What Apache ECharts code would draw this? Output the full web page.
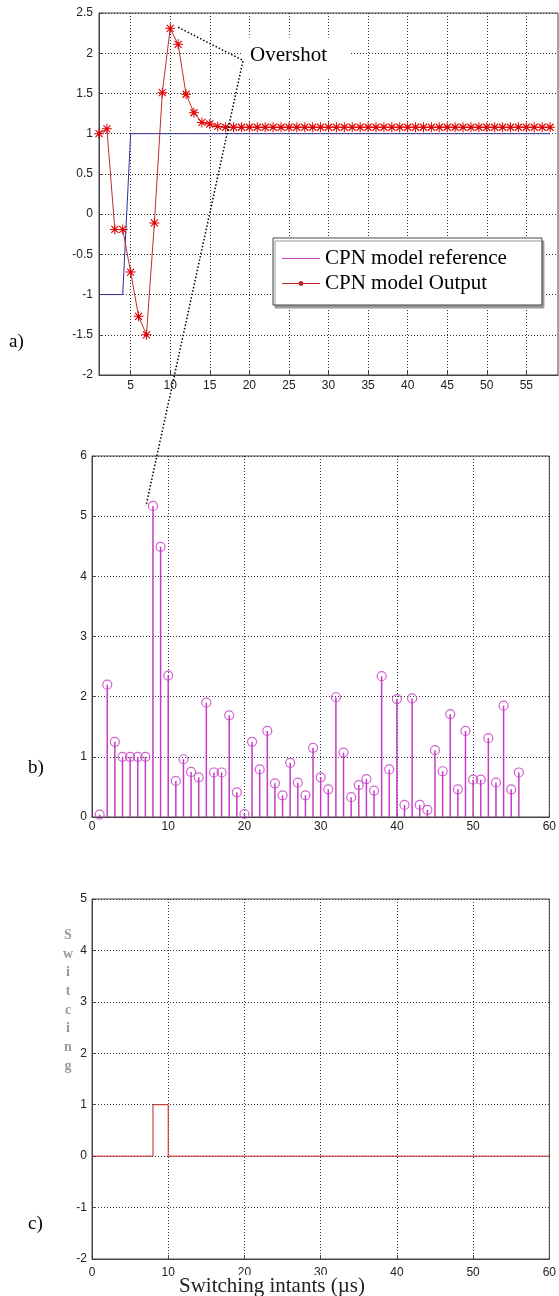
<!DOCTYPE html>
<html><head><meta charset="utf-8">
<script src="https://cdn.jsdelivr.net/npm/echarts@6/dist/echarts.min.js"></script>
<style>html,body{margin:0;padding:0;background:#fff}#c{width:559px;height:1296px}</style>
</head><body><div id="c"></div>
<script>
// ---------- data ----------
const timeA = [1,2,3,4,5,6,7,8,9,10,11,12,13,14,15,16,17,18,19,20,21,22,23,24,25,26,27,28,29,30,31,32,33,34,35,36,37,38,39,40,41,42,43,44,45,46,47,48,49,50,51,52,53,54,55,56,57,58];
const referenceA = [-1,-1,-1,-1,1,1,1,1,1,1,1,1,1,1,1,1,1,1,1,1,1,1,1,1,1,1,1,1,1,1,1,1,1,1,1,1,1,1,1,1,1,1,1,1,1,1,1,1,1,1,1,1,1,1,1,1,1,1];
const outputA = [1.0,1.06,-0.19,-0.19,-0.72,-1.27,-1.5,-0.11,1.51,2.31,2.11,1.49,1.26,1.14,1.12,1.09,1.08,1.08,1.08,1.08,1.08,1.08,1.08,1.08,1.08,1.08,1.08,1.08,1.08,1.08,1.08,1.08,1.08,1.08,1.08,1.08,1.08,1.08,1.08,1.08,1.08,1.08,1.08,1.08,1.08,1.08,1.08,1.08,1.08,1.08,1.08,1.08,1.08,1.08,1.08,1.08,1.08,1.08];
const tickLabelsA = [5,10,15,20,25,30,35,40,45,50,55];

const indexB = [1,2,3,4,5,6,7,8,9,10,11,12,13,14,15,16,17,18,19,20,21,22,23,24,25,26,27,28,29,30,31,32,33,34,35,36,37,38,39,40,41,42,43,44,45,46,47,48,49,50,51,52,53,54,55,56];
const valuesB = [0.04,2.2,1.25,1.0,1.0,1.0,1.0,5.17,4.49,2.35,0.6,0.96,0.75,0.66,1.9,0.74,0.74,1.69,0.41,0.05,1.25,0.79,1.43,0.56,0.36,0.9,0.57,0.36,1.15,0.66,0.46,1.99,1.07,0.33,0.53,0.63,0.44,2.34,0.79,1.96,0.2,1.97,0.2,0.12,1.11,0.76,1.71,0.46,1.43,0.62,0.62,1.31,0.57,1.85,0.46,0.74];

const switchInstantsC = [0, 8, 10, 60];
const switchStatesC = [0, 1, 0, 0];

const overshotPeak = [10, 2.31];   // grid a
const overshotKnee = [19.2, 1.91]; // grid a
const overshotStem = [8, 5.17];    // grid b

// ---------- styles ----------
const MAG = '#c43cc4';
const gridLine = {show:true, lineStyle:{color:'#333', type:[1,2], width:1}};
const axLine = {show:true, onZero:false, lineStyle:{color:'#444', width:1}};
const tick = {show:true, inside:true, length:4, lineStyle:{color:'#444'}};
const lab = {color:'#222', fontFamily:'Liberation Sans, Arial, sans-serif', fontSize:12};
const asterisk = 'path://M0 4.5L10 4.5L10 5.5L0 5.5Z M4.5 0L5.5 0L5.5 10L4.5 10Z M1.1 1.9L1.9 1.1L8.9 8.1L8.1 8.9Z M8.1 1.1L8.9 1.9L1.9 8.9L1.1 8.1Z';
const legendLine = 'path://M0 0L0.2 0L0 0.2Z M0 4.4L38 4.4L38 5.6L0 5.6Z M38 10L37.8 10L38 9.8Z';
const legendLineDot = 'path://M0 0L0.2 0L0 0.2Z M0 4.4L38 4.4L38 5.6L0 5.6Z M38 10L37.8 10L38 9.8Z M19 2.4L20.8 3.2L21.6 5L20.8 6.8L19 7.6L17.2 6.8L16.4 5L17.2 3.2Z';

const chart = echarts.init(document.getElementById('c'), null, {renderer:'canvas'});
const option = {
  animation:false,
  backgroundColor:'#fff',
  grid:[
    {left:99, top:13, width:459, height:362, show:true, borderColor:'#444', borderWidth:1},
    {left:92, top:456, width:460, height:361, show:true, borderColor:'#444', borderWidth:1},
    {left:92, top:899, width:460, height:360, show:true, borderColor:'#444', borderWidth:1}
  ],
  xAxis:[
    {gridIndex:0, type:'value', min:1, max:59, axisLine:axLine, axisTick:Object.assign({}, tick, {customValues:tickLabelsA}),
     axisLabel:Object.assign({}, lab, {margin:5, customValues:tickLabelsA}), splitLine:gridLine},
    {gridIndex:1, type:'value', min:0, max:60, interval:10, axisLine:axLine, axisTick:tick,
     axisLabel:Object.assign({}, lab, {margin:4}), splitLine:gridLine},
    {gridIndex:2, type:'value', min:0, max:60, interval:10, axisLine:axLine, axisTick:tick,
     axisLabel:Object.assign({}, lab, {margin:8}), splitLine:gridLine}
  ],
  yAxis:[
    {gridIndex:0, type:'value', min:-2, max:2.5, interval:0.5, axisLine:axLine, axisTick:tick,
     axisLabel:Object.assign({}, lab, {margin:6}), splitLine:gridLine},
    {gridIndex:1, type:'value', min:0, max:6, interval:1, axisLine:axLine, axisTick:tick,
     axisLabel:Object.assign({}, lab, {margin:5}), splitLine:gridLine},
    {gridIndex:2, type:'value', min:-2, max:5, interval:1, axisLine:axLine, axisTick:tick,
     axisLabel:Object.assign({}, lab, {margin:5}), splitLine:gridLine}
  ],
  legend:{
    orient:'vertical', left:273, top:238, padding:[8,35,9,9], itemGap:0, itemWidth:38, itemHeight:10,
    backgroundColor:'#fff', borderColor:'#444', borderWidth:1,
    shadowColor:'#999', shadowBlur:0, shadowOffsetX:2, shadowOffsetY:3,
    textStyle:{fontFamily:'Liberation Serif, Times New Roman, serif', fontSize:21, color:'#000', lineHeight:25},
    data:[
      {name:'CPN model reference', icon:legendLine, itemStyle:{color:MAG}},
      {name:'CPN model Output', icon:legendLineDot, itemStyle:{color:'#c42020'}}
    ]
  },
  series:[
    {name:'CPN model reference', type:'line', xAxisIndex:0, yAxisIndex:0, symbol:'none',
     lineStyle:{color:'#30309a', width:1}, itemStyle:{color:'#30309a'},
     data: timeA.map((t,i)=>[t, referenceA[i]])},
    {name:'CPN model Output', type:'line', xAxisIndex:0, yAxisIndex:0, symbol:asterisk, symbolSize:10, showAllSymbol:true,
     lineStyle:{color:'#b83030', width:1}, itemStyle:{color:'#e00000'},
     data: timeA.map((t,i)=>[t, outputA[i]])},
    {name:'stem', type:'bar', xAxisIndex:1, yAxisIndex:1, barWidth:1.5, itemStyle:{color:MAG},
     data: indexB.map((t,i)=>[t, valuesB[i]])},
    {name:'stemHead', type:'scatter', xAxisIndex:1, yAxisIndex:1, symbol:'circle', symbolSize:9,
     itemStyle:{color:'rgba(255,255,255,0)', borderColor:MAG, borderWidth:1.2},
     data: indexB.map((t,i)=>[t, valuesB[i]])},
    {name:'switching', type:'line', xAxisIndex:2, yAxisIndex:2, step:'end', symbol:'none',
     lineStyle:{color:'#c82020', width:1}, itemStyle:{color:'#c82020'},
     data: switchInstantsC.map((t,i)=>[t, switchStatesC[i]])}
  ]
};
chart.setOption(option);

const pk = chart.convertToPixel({xAxisIndex:0, yAxisIndex:0}, overshotPeak);
const kn = chart.convertToPixel({xAxisIndex:0, yAxisIndex:0}, overshotKnee);
const st = chart.convertToPixel({xAxisIndex:1, yAxisIndex:1}, overshotStem);
const serif = 'Liberation Serif, Times New Roman, serif';
chart.setOption({
  graphic:[
    {type:'rect', z:100, shape:{x:kn[0], y:kn[1]-23, width:107, height:41}, style:{fill:'#fff'}},
    {type:'text', z:101, x:kn[0]+7, y:kn[1]-5, style:{text:'Overshot', font:'21px '+serif, fill:'#000', verticalAlign:'middle'}},
    {type:'polyline', z:102, shape:{points:[[pk[0]+8, pk[1]-1],[kn[0], kn[1]],[st[0]-7, st[1]]]},
     style:{stroke:'#000', lineWidth:1.5, lineDash:[1.5,2], fill:null}},
    {type:'text', z:101, x:9, y:342, style:{text:'a)', font:'19px '+serif, fill:'#000', verticalAlign:'middle'}},
    {type:'text', z:101, x:28, y:768, style:{text:'b)', font:'19px '+serif, fill:'#000', verticalAlign:'middle'}},
    {type:'text', z:101, x:28, y:1224, style:{text:'c)', font:'19px '+serif, fill:'#000', verticalAlign:'middle'}},
    {type:'text', z:101, x:68, y:926, style:{text:'S\nw\ni\nt\nc\ni\nn\ng', font:'bold 14px '+serif, fill:'#9a9a9a', align:'center', lineHeight:18.7}},
    {type:'text', z:101, x:176, y:1275, style:{text:'Switching intants (µs)', font:'21px '+serif, fill:'#222', backgroundColor:'#fff', padding:[1,3,0,3]}}
  ]
});
</script></body></html>
